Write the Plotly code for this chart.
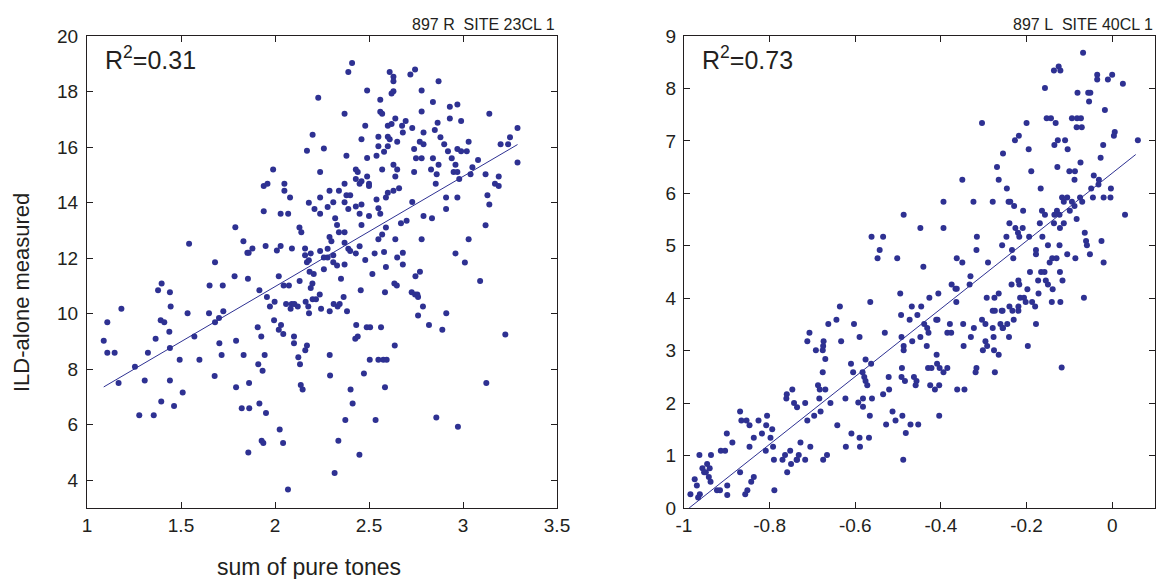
import plotly.graph_objects as go

# ---------------- data: left panel (897 R, SITE 23CL 1) ----------------
left_x = [
    1.789, 1.543, 1.832, 1.853, 1.681,
    2.41, 2.39, 2.61, 2.63, 2.63, 2.23, 2.49, 2.63, 2.62, 2.56, 2.37, 2.56, 2.57, 2.48, 2.64,
    2.60, 2.62, 2.20, 2.46, 2.55, 2.60, 2.61, 2.65, 2.55, 2.60, 2.17, 2.26, 2.58, 2.38, 2.49,
    2.54, 1.99, 2.24, 2.43, 2.44, 2.57, 2.63, 2.65, 1.94, 1.96, 2.05, 2.43, 2.46, 2.49, 2.45,
    2.50, 2.50, 2.64, 2.05, 2.08, 2.29, 2.34, 2.37, 2.38, 2.40, 2.63, 2.60, 2.66, 2.59, 2.18,
    2.24, 2.31, 2.37, 1.94, 2.03, 2.07, 2.21, 2.24, 2.28, 2.39, 2.43, 2.46, 2.45, 2.50, 2.54,
    2.55, 2.56, 2.13, 2.14, 2.32, 2.33, 2.34, 2.37, 2.46, 2.59, 2.29, 2.30, 2.37, 2.39, 2.55,
    2.57, 2.64, 1.88, 1.86, 1.95, 2.01, 2.03, 2.09, 2.16, 2.16, 2.19, 2.24, 2.28, 2.26, 2.28,
    2.31, 2.40, 2.43, 2.45, 2.48, 2.53, 2.58, 2.65, 2.18, 2.17, 2.31, 2.33, 2.37, 2.26, 2.59,
    2.745, 2.72, 2.87, 2.78, 2.84, 2.93, 2.97, 2.78, 3.14, 2.93, 2.99, 2.865, 2.695, 2.676, 2.73,
    2.68, 2.79, 2.85, 2.88, 2.90, 2.77, 2.79, 3.03, 3.25, 3.20, 3.24, 3.29, 2.74, 2.92, 2.97,
    2.99, 3.02, 2.75, 2.78, 2.84, 2.94, 3.08, 2.87, 2.96, 3.05, 2.83, 2.86, 2.95, 2.97, 2.74,
    3.12, 3.19, 3.29, 2.98, 3.04, 3.17, 3.19, 2.855, 2.91, 2.97, 3.13, 3.14, 2.73, 2.91, 2.79,
    2.835, 2.70, 2.67, 3.12, 2.78, 3.03, 2.96, 2.68, 2.68, 3.01,
    1.785, 1.397, 1.378, 1.441, 1.652, 1.722, 1.183, 1.445, 1.108, 1.392, 1.411, 1.535, 1.649,
    1.725, 1.702, 1.681, 1.438, 1.089, 1.365, 1.571, 1.793, 1.108, 1.147, 1.324, 1.441, 1.704,
    1.716, 1.833, 1.255, 1.493, 1.598, 1.168, 1.307, 1.441, 1.679, 1.793, 1.509, 1.395, 1.463,
    1.278, 1.355, 1.823,
    1.856, 2.020, 2.046, 2.074, 2.131, 2.184, 2.206, 2.199, 2.190, 2.351, 2.518, 2.635, 2.648,
    1.917, 1.957, 1.998, 1.973, 2.059, 2.089, 2.103, 2.083, 2.121, 2.163, 2.177, 2.200, 2.218,
    2.238, 2.181, 2.245, 2.291, 2.312, 2.333, 2.344, 2.365, 2.383, 2.456, 2.585,
    1.995, 2.032, 2.020, 2.044, 1.908, 1.927, 2.101, 2.101, 2.170, 2.161, 2.124, 2.133, 2.291,
    2.432, 2.488, 2.506, 2.564, 2.427, 2.440, 2.637,
    1.945, 1.911, 1.934, 2.504, 2.550, 2.576, 2.594, 2.293, 2.473,
    1.862, 2.137, 2.147, 2.402, 2.585,
    1.863, 1.917, 1.952, 2.413, 2.374, 2.535, 2.025, 1.929, 1.938, 2.043, 2.337, 1.858, 2.449,
    2.317, 2.069,
    2.771, 2.747, 2.727, 2.745, 2.757, 2.761, 2.787, 2.761, 2.911, 2.819, 2.890, 3.091, 3.225,
    3.124, 2.858, 2.973,
]
left_y = [
    13.11, 12.52, 12.61, 12.19, 11.85,
    19.03, 18.70, 18.70, 18.53, 18.37, 17.78, 18.04, 18.01, 17.93, 17.70, 17.20, 17.27, 17.20, 16.77, 17.03,
    16.77, 16.83, 16.44, 16.28, 16.37, 16.37, 16.28, 16.19, 16.03, 16.03, 15.87, 15.95, 15.83, 15.69, 15.61,
    15.69, 15.19, 15.10, 15.19, 15.10, 15.19, 15.36, 15.19, 14.60, 14.68, 14.68, 14.85, 14.77, 14.94, 14.68,
    14.68, 14.60, 14.94, 14.43, 14.18, 14.43, 14.43, 14.68, 14.26, 14.26, 14.43, 14.35, 14.52, 14.18, 13.99,
    14.18, 14.01, 14.01, 13.69, 13.60, 13.60, 13.77, 13.60, 13.84, 13.77, 13.86, 13.93, 13.60, 13.52, 14.11,
    13.80, 13.60, 13.10, 12.93, 13.44, 13.19, 12.93, 12.93, 13.19, 13.10, 12.76, 12.61, 12.55, 12.34, 12.68,
    12.85, 12.68, 12.35, 12.19, 12.44, 12.27, 12.44, 12.35, 12.35, 12.10, 12.17, 12.26, 12.34, 12.02, 12.02,
    12.10, 12.26, 12.17, 12.43, 11.93, 12.17, 12.22, 12.02, 11.92, 11.85, 11.85, 11.73, 11.77, 11.60, 11.68,
    18.79, 18.61, 18.37, 18.04, 17.62, 17.45, 17.53, 17.28, 17.20, 17.03, 16.94, 16.88, 16.94, 16.77, 16.69,
    16.52, 16.52, 16.61, 16.35, 16.10, 16.19, 16.10, 16.19, 16.35, 16.10, 16.10, 16.69, 15.93, 15.85, 15.93,
    15.85, 15.85, 15.60, 15.60, 15.60, 15.60, 15.53, 15.36, 15.36, 15.27, 15.19, 15.02, 15.10, 15.10, 15.10,
    15.02, 14.94, 15.44, 14.85, 15.02, 14.68, 14.60, 14.68, 14.18, 14.18, 14.26, 13.93, 14.02, 13.77, 13.52,
    13.44, 13.35, 13.26, 13.18, 12.68, 12.68, 12.17, 12.19, 11.77, 11.84,
    11.35, 11.09, 10.84, 10.77, 11.01, 11.01, 10.18, 10.26, 9.69, 9.76, 9.69, 10.01, 10.01,
    10.09, 9.84, 9.69, 9.35, 9.02, 9.10, 9.18, 9.02, 8.59, 8.59, 8.59, 8.76, 8.93,
    8.51, 8.51, 8.09, 8.34, 8.34, 7.50, 7.59, 7.59, 7.75, 7.35, 7.16, 6.84, 6.67,
    6.34, 6.34, 6.59,
    11.26, 11.35, 11.01, 11.01, 11.18, 11.51, 11.43, 11.09, 10.92, 11.26, 11.43, 11.09, 11.01,
    10.84, 10.60, 10.43, 10.26, 10.35, 10.35, 10.35, 10.18, 10.26, 10.43, 10.26, 10.52, 10.52,
    10.69, 10.01, 10.18, 10.09, 10.35, 10.26, 10.35, 10.60, 10.09, 10.84, 10.77,
    9.76, 9.59, 9.42, 9.27, 9.51, 9.18, 9.18, 8.93, 8.85, 8.68, 8.43, 8.18, 8.51,
    9.59, 9.51, 9.51, 9.51, 9.10, 9.18, 8.85,
    8.51, 8.18, 7.94, 8.34, 8.34, 8.34, 8.34, 7.77, 7.84,
    7.50, 7.43, 7.27, 7.27, 7.35,
    6.59, 6.76, 6.42, 6.76, 6.17, 6.17, 5.83, 5.42, 5.34, 5.34, 5.42, 5.00, 4.92,
    4.26, 3.67,
    11.51, 11.35, 10.77, 10.69, 10.69, 10.60, 10.26, 9.93, 10.01, 9.59, 9.42, 11.18, 9.25,
    7.50, 6.26, 5.93,
]
left_fit_x = [1.089, 3.29]
left_fit_y = [7.36, 16.09]

# ---------------- data: right panel (897 L, SITE 40CL 1) ----------------
right_x = [
    -0.304, -0.269, -0.350, -0.265, -0.394, -0.324, -0.279, -0.487, -0.448, -0.394, -0.562, -0.535,
    -0.316, -0.543, -0.317, -0.548, -0.502, -0.363, -0.350, -0.290, -0.441,
    -0.068, -0.136, -0.125, -0.121, -0.035, -0.035, -0.010, 0.000, 0.025, -0.157, -0.081, -0.056,
    -0.051, -0.054, -0.017, -0.153, -0.143, -0.132, -0.200, -0.094, -0.082, -0.073, -0.083, -0.071,
    0.006, 0.004, -0.218, -0.227, -0.135, -0.127, -0.110, -0.104, -0.195, -0.021, 0.060, -0.255,
    -0.074, -0.027, -0.189, -0.128, -0.100, -0.087, -0.088, -0.043, -0.031, -0.032, -0.049, -0.246,
    -0.167, -0.003, -0.117, -0.105, -0.075, -0.070, -0.045, -0.020, -0.004, -0.113, -0.242, -0.238,
    -0.229, -0.208, -0.164, -0.157, -0.129, -0.135, -0.123, -0.094, -0.088, -0.099, 0.030, -0.083,
    -0.240, -0.169, -0.136, -0.113, -0.226, -0.209, -0.220, -0.122, -0.217, -0.247, -0.194, -0.163,
    -0.064, -0.061, -0.059, -0.025, -0.257, -0.234, -0.150, -0.123, -0.178, -0.178, -0.231, -0.140,
    -0.130, -0.146, -0.105, -0.086, -0.052, -0.020,
    -0.636, -0.644, -0.663, -0.603, -0.707, -0.712, -0.674, -0.633, -0.675, -0.692, -0.676, -0.670,
    -0.610, -0.605, -0.676, -0.687, -0.683, -0.670, -0.747, -0.760, -0.761, -0.743, -0.736, -0.717,
    -0.684, -0.658, -0.623, -0.869, -0.681, -0.866, -0.854, -0.847, -0.826, -0.806, -0.808, -0.696,
    -0.712, -0.794, -0.818, -0.900, -0.887, -0.837, -0.798, -0.847, -0.792, -0.809, -0.914, -0.904,
    -0.937, -0.964, -0.728, -0.705, -0.642, -0.609, -0.622, -0.764, -0.752, -0.770, -0.790, -0.750,
    -0.737, -0.732, -0.717, -0.736, -0.666, -0.675, -0.946, -0.957, -0.940, -0.953, -0.949, -0.942,
    -0.938, -0.869, -0.837, -0.843, -0.759, -0.970, -0.923, -0.916, -0.899, -0.852, -0.857, -0.899,
    -0.789, -0.963, -0.967, -0.985, -0.975,
    -0.331, -0.375, -0.366, -0.363, -0.333, -0.364, -0.495, -0.565, -0.427, -0.406, -0.468, -0.446,
    -0.493, -0.455, -0.473, -0.411, -0.408, -0.439, -0.432, -0.429, -0.379, -0.348, -0.385, -0.376,
    -0.323, -0.304, -0.293, -0.275, -0.265, -0.279, -0.274, -0.258, -0.296, -0.279, -0.261, -0.255,
    -0.330, -0.277, -0.531, -0.492, -0.448, -0.467, -0.590, -0.487, -0.487, -0.433, -0.347, -0.296,
    -0.292, -0.302, -0.276, -0.265, -0.410, -0.576, -0.563, -0.491, -0.430, -0.422, -0.409, -0.403,
    -0.385, -0.394, -0.317, -0.319, -0.274, -0.583, -0.579, -0.576, -0.572, -0.522, -0.492, -0.463,
    -0.457, -0.484, -0.459, -0.425, -0.404, -0.414, -0.362, -0.345, -0.521, -0.535, -0.582, -0.561,
    -0.593, -0.582, -0.513, -0.506, -0.490, -0.566, -0.528, -0.471, -0.453, -0.404, -0.482, -0.590,
    -0.568, -0.589, -0.488,
    -0.192, -0.166, -0.158, -0.122, -0.219, -0.173, -0.155, -0.116, -0.235, -0.217, -0.150, -0.139,
    -0.198, -0.172, -0.215, -0.206, -0.066, -0.202, -0.187, -0.141, -0.121, -0.180, -0.240, -0.219,
    -0.256, -0.233, -0.219, -0.230, -0.245, -0.178, -0.256, -0.241, -0.197, -0.118,
]
right_y = [
    7.34, 6.50, 6.26, 6.26, 5.84, 5.84, 5.84, 5.59, 5.34, 5.34, 5.17, 5.17,
    5.17, 4.92, 4.92, 4.76, 4.76, 4.76, 4.68, 4.68, 4.60,
    8.68, 8.34, 8.42, 8.34, 8.26, 8.17, 8.17, 8.26, 8.09, 8.01, 7.92, 7.92,
    7.92, 7.75, 7.59, 7.43, 7.43, 7.34, 7.34, 7.43, 7.43, 7.43, 7.26, 7.26,
    7.17, 7.10, 7.10, 7.01, 6.92, 7.01, 7.01, 6.84, 6.84, 6.92, 7.01, 6.76,
    6.59, 6.68, 6.42, 6.50, 6.42, 6.42, 6.26, 6.34, 6.26, 6.17, 6.09, 6.09,
    6.09, 6.09, 5.92, 5.92, 5.92, 5.84, 5.92, 5.92, 5.92, 5.84, 5.84, 5.84,
    5.76, 5.67, 5.67, 5.59, 5.67, 5.59, 5.59, 5.84, 5.76, 5.67, 5.59, 5.51,
    5.43, 5.43, 5.43, 5.43, 5.34, 5.34, 5.25, 5.34, 5.17, 5.17, 5.17, 5.17,
    5.25, 5.09, 5.01, 5.09, 5.01, 4.92, 5.01, 5.01, 4.92, 4.84, 4.76, 4.76,
    4.76, 4.68, 4.84, 4.76, 4.84, 4.68,
    3.84, 3.59, 3.51, 3.51, 3.34, 3.18, 3.18, 3.18, 3.09, 3.01, 3.01, 2.84,
    2.75, 2.59, 2.59, 2.34, 2.26, 2.26, 2.26, 2.17, 2.09, 2.00, 1.92, 2.00,
    2.09, 2.00, 2.09, 1.84, 1.84, 1.67, 1.67, 1.58, 1.67, 1.76, 1.58, 1.76,
    1.67, 1.50, 1.42, 1.42, 1.25, 1.34, 1.34, 1.17, 1.17, 1.09, 1.09, 1.09,
    1.01, 1.01, 1.25, 1.17, 1.58, 1.42, 1.17, 1.01, 1.09, 0.92, 0.92, 0.84,
    0.92, 1.01, 0.92, 0.92, 1.01, 0.92, 0.84, 0.76, 0.76, 0.68, 0.68, 0.59,
    0.50, 0.68, 0.59, 0.50, 0.68, 0.43, 0.34, 0.34, 0.43, 0.34, 0.26, 0.25,
    0.34, 0.26, 0.20, 0.26, 0.55,
    4.42, 4.26, 4.18, 4.18, 4.26, 3.93, 4.09, 3.93, 4.01, 4.09, 3.84, 3.84,
    3.68, 3.68, 3.59, 3.59, 3.59, 3.51, 3.43, 3.34, 3.51, 3.51, 3.34, 3.34,
    3.43, 3.59, 4.01, 4.01, 4.09, 3.76, 3.76, 3.76, 3.51, 3.43, 3.51, 3.43,
    3.26, 3.26, 3.34, 3.26, 3.26, 3.18, 3.26, 3.09, 3.01, 3.09, 3.09, 3.18,
    3.09, 3.01, 3.01, 2.92, 2.92, 2.83, 2.75, 2.67, 2.67, 2.67, 2.75, 2.67,
    2.67, 2.59, 2.67, 2.59, 2.59, 2.59, 2.50, 2.42, 2.34, 2.50, 2.50, 2.50,
    2.42, 2.42, 2.34, 2.34, 2.34, 2.26, 2.26, 2.26, 2.26, 2.17, 2.09, 2.09,
    2.01, 1.93, 1.84, 1.67, 1.76, 1.76, 1.59, 1.59, 1.59, 1.76, 1.43, 1.34,
    1.34, 1.17, 0.92,
    4.50, 4.50, 4.50, 4.50, 4.34, 4.34, 4.34, 4.34, 4.26, 4.26, 4.26, 4.17,
    4.17, 4.09, 4.01, 4.01, 4.01, 3.93, 3.93, 3.93, 3.93, 3.84, 3.84, 3.84,
    3.76, 3.76, 3.76, 3.59, 3.51, 3.51, 3.43, 3.26, 3.09, 2.68,
]
right_fit_x = [-0.988, 0.055]
right_fit_y = [0.0, 6.74]

left_xticks = [1, 1.5, 2, 2.5, 3, 3.5]
left_yticks = [4, 6, 8, 10, 12, 14, 16, 18, 20]
right_xticks = [-1, -0.8, -0.6, -0.4, -0.2, 0]
right_yticks = [0, 1, 2, 3, 4, 5, 6, 7, 8, 9]

titles = ["897 R&nbsp; SITE 23CL 1", "897 L&nbsp; SITE 40CL 1"]
r2_texts = ["R<sup>2</sup>=0.31", "R<sup>2</sup>=0.73"]
xlabel = "sum of pure tones"
ylabel = "ILD-alone measured"

# ---------------- figure ----------------
MARK = "#2E3192"
AX = "#231F20"
FONT = "Liberation Sans, Arial, sans-serif"

fig = go.Figure()
fig.add_trace(go.Scatter(x=left_x, y=left_y, mode="markers",
                         marker=dict(size=6, color=MARK), xaxis="x", yaxis="y",
                         showlegend=False, hoverinfo="skip"))
fig.add_trace(go.Scatter(x=left_fit_x, y=left_fit_y, mode="lines",
                         line=dict(color=MARK, width=1), xaxis="x", yaxis="y",
                         showlegend=False, hoverinfo="skip"))
fig.add_trace(go.Scatter(x=right_x, y=right_y, mode="markers",
                         marker=dict(size=6, color=MARK), xaxis="x2", yaxis="y2",
                         showlegend=False, hoverinfo="skip"))
fig.add_trace(go.Scatter(x=right_fit_x, y=right_fit_y, mode="lines",
                         line=dict(color=MARK, width=1), xaxis="x2", yaxis="y2",
                         showlegend=False, hoverinfo="skip"))

def fmt(v):
    return "%g" % v

common = dict(showline=True, linecolor=AX, linewidth=1, mirror="allticks",
              ticks="inside", ticklen=6, tickcolor=AX, tickwidth=1,
              showgrid=False, zeroline=False, automargin=False,
              tickfont=dict(family=FONT, size=19, color=AX))

W, H = 1161, 579
ML, MR, MT, MB = 87, 6, 36, 71
pw = W - ML - MR
ph = H - MT - MB
left_dom = [0, (557 - ML) / pw]
right_dom = [(684 - ML) / pw, 1]

fig.update_layout(
    template="none",
    width=W, height=H, autosize=False,
    margin=dict(l=ML, r=MR, t=MT, b=MB, pad=0, autoexpand=False),
    paper_bgcolor="white", plot_bgcolor="white",
    font=dict(family=FONT, color=AX),
    xaxis=dict(domain=left_dom, range=[1, 3.5], tickvals=left_xticks,
               ticktext=[fmt(v) for v in left_xticks], anchor="y", **common),
    yaxis=dict(domain=[0, 1], range=[3, 20], tickvals=left_yticks,
               ticktext=[fmt(v) for v in left_yticks], anchor="x",
               ticklabelstandoff=4, **common),
    xaxis2=dict(domain=right_dom, range=[-1, 0.1], tickvals=right_xticks,
                ticktext=[fmt(v) for v in right_xticks], anchor="y2", **common),
    yaxis2=dict(domain=[0, 1], range=[0, 9], tickvals=right_yticks,
                ticktext=[fmt(v) for v in right_yticks], anchor="x2",
                ticklabelstandoff=3, **common),
)

ann = []
for i, (xr, yr) in enumerate([("x domain", "y domain"), ("x2 domain", "y2 domain")]):
    ann.append(dict(xref=xr, yref=yr, x=1, y=1, xanchor="right", yanchor="bottom",
                    yshift=1, text=titles[i], showarrow=False,
                    font=dict(family=FONT, size=16, color=AX)))
    ann.append(dict(xref=xr, yref=yr, x=0, y=1, xanchor="left", yanchor="top",
                    xshift=16, yshift=-4, text=r2_texts[i], showarrow=False,
                    font=dict(family=FONT, size=25, color=AX)))
ann.append(dict(xref="paper", yref="paper", x=(309 - ML) / pw, y=(H - MB - 567) / ph,
                xanchor="center", yanchor="middle", text=xlabel, showarrow=False,
                font=dict(family=FONT, size=23, color=AX)))
ann.append(dict(xref="paper", yref="paper", x=(21 - ML) / pw, y=(H - MB - 293) / ph,
                xanchor="center", yanchor="middle", text=ylabel, showarrow=False,
                textangle=-90, font=dict(family=FONT, size=22, color=AX)))
fig.update_layout(annotations=ann)

fig.write_html("out.html", config={"responsive": False})
